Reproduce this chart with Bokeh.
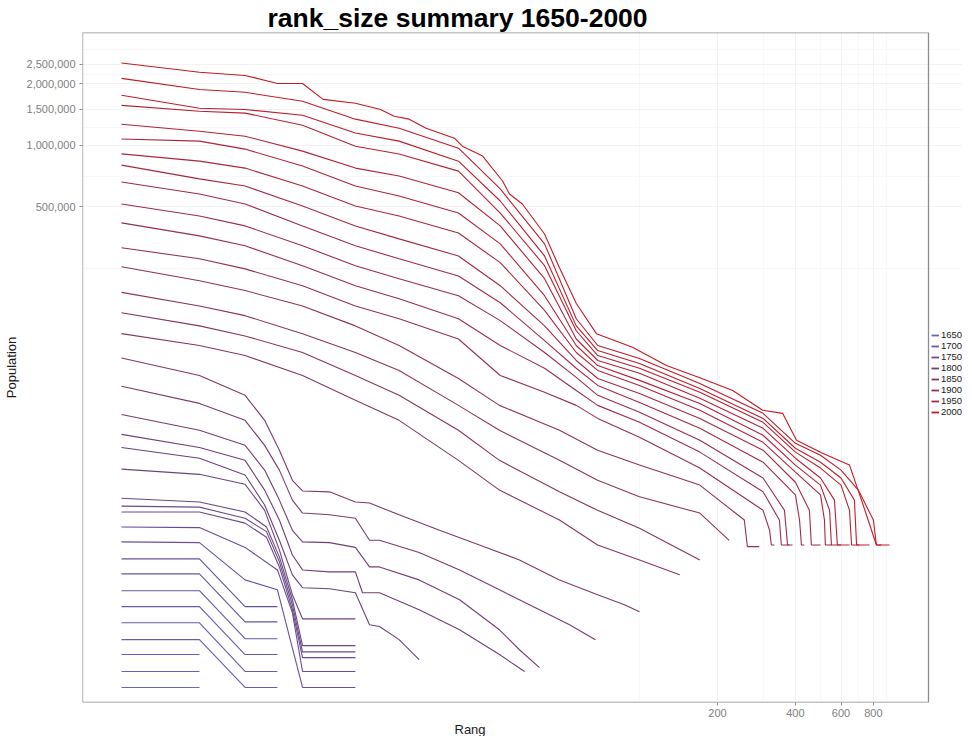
from bokeh.plotting import figure
from bokeh.models import Range1d, FixedTicker, NumeralTickFormatter, Legend, LegendItem, BoxAnnotation, Title
from bokeh.embed import file_html
from bokeh.resources import INLINE

# ---------------- data: rank and population (thousands) per census year ----------------
years = list(range(1650, 2001, 10))
legend_years = [1650, 1700, 1750, 1800, 1850, 1900, 1950, 2000]
y_ticks = [500000, 1000000, 1500000, 2000000, 2500000]
x_ticks = [200, 400, 600, 800]

rank_2000 = [1,2,3,4,5,6,8,10,11.3,12.9,15,19.3,20.7,24.8,29.6,31.5,35.3,43,49.1,57.1,68.2,94,127,171,229,299,357,404,509,647,720,822,923]
pop_2000 = [2530,2280,2200,2010,2010,1680,1610,1500,1390,1345,1215,1085,992,887,670,579,517,369,252,168,120,103,83.8,73.1,63.3,50.6,48.9,36.1,31.2,27.3,18.4,11.1,11.1]
rank_1990 = [1,2,3,5,8,11.8,20,29,43,57,69,100,171,300,400,500,600,700,800,822,860]
pop_1990 = [2130,1880,1820,1645,1345,1215,970,613,330,142,105,90.7,68.5,48.9,34.9,30.5,25.8,20.6,14.7,11.1,11.1]
rank_1980 = [1,2,3,5,8,11.8,20,29,43,57,69,100,171,300,400,500,600,676,689,773]
pop_1980 = [1760,1520,1500,1405,1150,1050,838,535,288,131,99.2,85.8,64.7,46.2,33.0,28.2,23.6,18.4,11.1,11.1]
rank_1970 = [1,2,3,5,8,11.8,20,29,43,57,69,100,171,300,400,500,600,647,659,707]
pop_1970 = [1570,1470,1440,1255,992,908,749,467,258,124,93.8,81.3,62.0,44.2,31.6,26.4,21.8,16.4,11.1,11.1]
rank_1960 = [1,2,3,5,8,11.8,20,29,43,57,69,100,171,300,400,500,566,581,647]
pop_1960 = [1270,1174,1110,938,775,709,587,404,223,113,88.7,76.8,57.9,41.3,29.5,23.6,18.4,11.1,11.1]
rank_1950 = [1,2,3,5,8,11.8,20,29,43,57,69,100,171,300,400,500,542,551,600]
pop_1950 = [1075,1050,960,793,633,566,467,330,184,105,83.8,70.9,54.7,38.2,27.3,21.8,16.4,11.1,11.1]
rank_1940 = [1,2,3,5,8,11.8,20,29,43,57,69,100,171,300,400,500,518,522,552]
pop_1940 = [910,838,775,633,506,452,373,267,156,97.1,79.3,67.0,50.6,35.3,25.2,19.5,14.7,11.1,11.1]
rank_1930 = [1,2,3,5,8,11.8,20,29,43,57,69,100,171,300,400,453,461,500]
pop_1930 = [801,686,633,506,404,349,288,206,131,88.7,72.4,61.1,46.2,32.3,22.5,16.4,11.1,11.1]
rank_1920 = [1,2,3,5,8,11.8,20,29,43,57,69,100,171,300,400,415,422,433]
pop_1920 = [663,579,517,404,323,279,230,170,111,81.3,67.0,55.3,41.3,28.2,19.5,14.7,11.1,11.1]
rank_1910 = [1,2,3,5,8,11.8,20,29,43,57,69,100,171,300,363,373,390]
pop_1910 = [517,452,404,323,258,223,184,139,97.1,73.3,59.9,49.5,36.1,23.6,16.4,11.1,11.1]
rank_1900 = [1,2,3,5,8,11.8,20,29,43,57,69,100,171,300,347,353,379]
pop_1900 = [418,361,323,258,206,178,142,105,81.3,63.3,53.5,44.2,31.6,20.2,14.7,11.1,11.1]
rank_1890 = [1,2,3,5,8,11.8,20,29,43,57,69,100,171,300,318,323,332]
pop_1890 = [316,279,249,206,164,142,113,74.9,62.0,53.5,46.2,37.4,26.4,16.4,13.1,11.1,11.1]
rank_1880 = [1,2,3,5,8,11.8,20,28.8,49.1,68.9,100,171,254,261,290]
pop_1880 = [255,218,195,164,131,105,72.4,53.5,40.4,32.3,27.3,21.8,14.7,10.9,10.9]
rank_1870 = [1,2,3,5,8,11.8,20,28.8,49.1,68.9,100,171,222]
pop_1870 = [191,164,147,120,97.1,79.3,53.5,40.4,28.8,23.0,19.1,15.9,11.7]
rank_1860 = [1,2,3,5,8,11.8,20,28.8,49.1,68.9,100,171]
pop_1860 = [152,131,117,97,74.9,59.9,40.4,28.8,20.2,16.4,13.4,9.38]
rank_1850 = [1,2,3,5,8,11.8,20,28.8,49.1,68.9,100,143]
pop_1850 = [120,105,93.8,74.9,56.6,45.2,28.8,20.6,14.7,11.1,9.38,7.93]
rank_1840 = [1,2,3,3.57,4.07,4.57,5,6.35,8,9.07,11.8,16.9,24.1,34.4,49.1,68.9,87.5,100]
pop_1840 = [91.3,74.9,59.9,45.2,32.3,23.0,20.4,20.2,18.0,17.8,15.6,13.1,11.1,9.38,7.49,6.33,5.66,5.23]
rank_1830 = [1,2,3,3.57,4.07,4.57,5,6.35,8,9.07,9.91,14.1,20.2,28.8,41.1,53.7,67.6]
pop_1830 = [66.3,54.7,45.2,34.1,25.8,18.4,15.9,15.6,15.0,11.7,11.7,10.2,8.38,6.70,5.35,4.52,3.82]
rank_1820 = [1,2,3,3.57,4.07,4.57,5,6.35,8,9.07,9.91,14.1,20.2,28.8,34.4,41.1]
pop_1820 = [48.3,40.4,34.1,25.8,18.4,13.1,11.5,11.4,10.8,8.67,8.67,7.49,5.99,4.27,3.41,2.79]
rank_1810 = [1,2,3,3.57,4.07,4.57,5,6.35,8,8.52,9.91,14.1,20.2,28.8,36.0]
pop_1810 = [38.6,33.3,28.8,20.6,14.7,9.92,8.38,8.20,8.20,6.48,6.48,5.35,4.27,3.23,2.67]
rank_1800 = [1,2,3,3.57,4.07,4.57,5,6.35,8,9.07,9.91,11.8,14.1]
pop_1800 = [33.3,29.5,24.4,17.4,11.7,7.93,6.86,6.78,6.48,4.52,4.43,3.82,3.05]
rank_1790 = [1,2,3,3.57,4.07,4.57,5,8]
pop_1790 = [26.1,24.6,22.0,16.4,10.5,6.33,4.83,4.83]
rank_1780 = [1,2,3,3.63,4.07,4.57,5,8]
pop_1780 = [18.8,18.0,16.1,13.6,9.71,5.99,3.57,3.57]
rank_1770 = [1,2,3,3.63,4.07,4.57,5,8]
pop_1770 = [17.2,17.0,15.0,12.9,9.18,5.66,3.33,3.33]
rank_1760 = [1,2,3,3.63,4.07,4.57,5,8]
pop_1760 = [16.1,16.1,14.2,12.1,8.67,5.35,3.12,3.12]
rank_1750 = [1,2,3,4,4.57,5,8]
pop_1750 = [13.6,13.5,10.8,8.38,5.17,2.67,2.67]
rank_1740 = [1,2,3,4,5,8]
pop_1740 = [11.5,11.4,7.49,6.70,2.23,2.23]
rank_1730 = [1,2,3,4]
pop_1730 = [9.49,9.49,5.54,5.54]
rank_1720 = [1,2,3,4]
pop_1720 = [8.02,8.02,4.67,4.67]
rank_1710 = [1,2,3,4]
pop_1710 = [6.63,6.63,3.86,3.86]
rank_1700 = [1,2,3,4]
pop_1700 = [5.54,5.54,3.23,3.23]
rank_1690 = [1,2,3,4]
pop_1690 = [4.62,4.62,2.67,2.67]
rank_1680 = [1,2,3,4]
pop_1680 = [3.82,3.82,2.23,2.23]
rank_1670 = [1,2]
pop_1670 = [3.23,3.23]
rank_1660 = [1,2]
pop_1660 = [2.67,2.67]
rank_1650 = [1,2]
pop_1650 = [2.23,2.23]

series = [
    (1650, rank_1650, pop_1650), (1660, rank_1660, pop_1660), (1670, rank_1670, pop_1670),
    (1680, rank_1680, pop_1680), (1690, rank_1690, pop_1690), (1700, rank_1700, pop_1700),
    (1710, rank_1710, pop_1710), (1720, rank_1720, pop_1720), (1730, rank_1730, pop_1730),
    (1740, rank_1740, pop_1740), (1750, rank_1750, pop_1750), (1760, rank_1760, pop_1760),
    (1770, rank_1770, pop_1770), (1780, rank_1780, pop_1780), (1790, rank_1790, pop_1790),
    (1800, rank_1800, pop_1800), (1810, rank_1810, pop_1810), (1820, rank_1820, pop_1820),
    (1830, rank_1830, pop_1830), (1840, rank_1840, pop_1840), (1850, rank_1850, pop_1850),
    (1860, rank_1860, pop_1860), (1870, rank_1870, pop_1870), (1880, rank_1880, pop_1880),
    (1890, rank_1890, pop_1890), (1900, rank_1900, pop_1900), (1910, rank_1910, pop_1910),
    (1920, rank_1920, pop_1920), (1930, rank_1930, pop_1930), (1940, rank_1940, pop_1940),
    (1950, rank_1950, pop_1950), (1960, rank_1960, pop_1960), (1970, rank_1970, pop_1970),
    (1980, rank_1980, pop_1980), (1990, rank_1990, pop_1990), (2000, rank_2000, pop_2000),
]

# ---------------- colour scale (year -> colour) ----------------
STOPS = [(1650, (100, 100, 196)), (1800, (108, 66, 122)), (2000, (196, 26, 38))]

def colour(year):
    for (y0, c0), (y1, c1) in zip(STOPS[:-1], STOPS[1:]):
        if y0 <= year <= y1:
            t = (year - y0) / (y1 - y0)
            return "#%02x%02x%02x" % tuple(int(round(a + (b - a) * t)) for a, b in zip(c0, c1))
    return "#%02x%02x%02x" % STOPS[-1][1]

# ---------------- figure ----------------
FONT = "Liberation Sans"
PANEL_RIGHT = 1306      # right edge of the bordered panel (rank units); legend sits beyond it
GREY = "#8c8c8c"
p = figure(width=962, height=736, x_axis_type="log", y_axis_type="log",
           x_range=Range1d(0.707, 1767), y_range=Range1d(1882, 3.57e6),
           output_backend="svg", toolbar_location=None,
           min_border_left=75, min_border_right=0, min_border_top=23, min_border_bottom=20)

p.background_fill_color = "white"
p.border_fill_color = "white"
p.outline_line_color = None

for g in (p.xgrid[0], p.ygrid[0]):
    g.grid_line_color = "#efefef"
    g.grid_line_width = 0.8
    g.minor_grid_line_color = "#f6f6f6"
    g.minor_grid_line_width = 0.8

# panel border (left/top/bottom follow the frame, right edge at PANEL_RIGHT)
p.add_layout(BoxAnnotation(right=PANEL_RIGHT, fill_alpha=0, fill_color=None,
                           line_color=GREY, line_alpha=1.0, line_width=1.3, level="underlay"))

for yr, rk, pp in series:
    p.line([float(r) for r in rk], [v * 1000 for v in pp], line_color=colour(yr), line_width=1.1)

# axes
p.xaxis.ticker = FixedTicker(ticks=x_ticks, minor_ticks=[100, 300, 500, 700, 900])
p.xaxis.formatter = NumeralTickFormatter(format="0")
p.yaxis.ticker = FixedTicker(ticks=y_ticks, minor_ticks=[250000, 707107, 1224745, 2236068, 2958040])
p.yaxis.formatter = NumeralTickFormatter(format="0,0")
for ax in (p.xaxis[0], p.yaxis[0]):
    ax.axis_line_color = None
    ax.major_tick_line_color = GREY
    ax.major_tick_in = 0
    ax.major_tick_out = 3
    ax.minor_tick_line_color = None
    ax.major_label_text_font = FONT
    ax.major_label_text_font_size = "11px"
    ax.major_label_text_color = "#808080"
    ax.axis_label_text_font = FONT
    ax.axis_label_text_font_size = "13px"
    ax.axis_label_text_font_style = "normal"
    ax.axis_label_text_color = "#1a1a1a"
p.yaxis.axis_label = "Population"
p.xaxis.major_label_standoff = 2
p.yaxis.major_label_standoff = 3
p.yaxis.axis_label_standoff = 5

# x axis title placed under the axis
p.add_layout(Title(text="Rang", align="left", offset=372, standoff=0,
                   text_font=FONT, text_font_size="13px", text_font_style="normal",
                   text_color="#1a1a1a"), "below")

# title
p.title.text = "rank_size summary 1650-2000"
p.title.text_font = FONT
p.title.text_font_size = "26.5px"
p.title.text_font_style = "bold"
p.title.text_color = "black"
p.title.align = "left"
p.title.offset = 185
p.title.standoff = 0

# legend just right of the bordered panel
items = []
for yr in legend_years:
    r = p.line(x=[float("nan")], y=[float("nan")], line_color=colour(yr), line_width=1.8)
    items.append(LegendItem(label=str(yr), renderers=[r]))
legend = Legend(items=items, location=(849, 285), orientation="vertical",
                border_line_color=None, background_fill_alpha=0,
                label_text_font=FONT, label_text_font_size="9.5px", label_text_color="#1a1a1a",
                glyph_width=8, glyph_height=8, label_height=8, label_width=18,
                label_standoff=2, spacing=0, padding=0, margin=0)
p.add_layout(legend)

open("out.html", "w").write(file_html(p, INLINE))
